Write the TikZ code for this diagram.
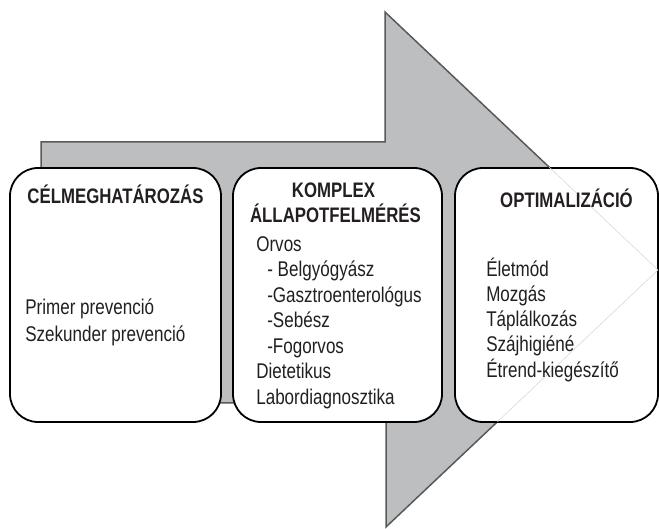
\documentclass[tikz,border=0pt]{standalone}
\usepackage{fontspec}
\usepackage{tikz}
\usetikzlibrary{positioning,calc}
\newfontfamily\narrowfont[FakeStretch=0.8]{Liberation Sans}
\definecolor{arrowfill}{HTML}{BCBEC0}
\definecolor{arrowline}{HTML}{58595B}
\definecolor{inkdark}{HTML}{231F20}
\definecolor{faintline}{HTML}{DADADA}

\begin{document}
\begin{tikzpicture}[x=1pt,y=-1pt,
  stagebox/.style={draw=black,line width=1.8pt,fill=white,rounded corners=28pt,minimum width=#1,minimum height=254pt,inner sep=0pt},
  titletext/.style={font=\narrowfont\bfseries\fontsize{21}{25}\selectfont,text=inkdark,inner sep=0pt,anchor=base},
  bodytext/.style={font=\narrowfont\fontsize{21.3}{25}\selectfont,text=inkdark,inner sep=0pt,anchor=base west}]
\useasboundingbox (0,0) rectangle (659,529);
\coordinate (shaftNW) at (41,142);
\coordinate (headtop) at (385,12);
\coordinate (tip) at (658,270);
\coordinate (headbot) at (386,527);
\coordinate (shaftSW) at (41,403);
\draw[arrowline,fill=arrowfill,line width=1.5pt,line join=miter]
  (shaftNW) -- (shaftNW -| headtop) -- (headtop) -- (tip) -- (headbot) -- (headbot |- shaftSW) -- (shaftSW) -- cycle;
\node[stagebox=211pt] (celm) at (115.5,295) {};
\node[stagebox=209pt] (komp) at (337.5,295) {};
\node[stagebox=203pt] (opti) at (556.5,295) {};
\draw[faintline,line width=0.6pt] ($(headtop)!0.6!(tip)$) -- (tip) -- ($(headbot)!0.41!(tip)$);
\node[titletext] (celmT) at ($(celm.north)+(0,36)$) {CÉLMEGHATÁROZÁS};
\node[titletext] (kompT1) at ($(komp.north)+(-4,30)$) {KOMPLEX};
\node[titletext] (kompT2) at ($(komp.north)+(-2,55)$) {ÁLLAPOTFELMÉRÉS};
\node[titletext] (optiT) at ($(opti.north)+(10,40)$) {OPTIMALIZÁCIÓ};
\foreach \txt [count=\i] in {Primer prevenció,Szekunder prevenció}
  \node[bodytext] (celm-\i) at ($(celm.north west)+(16,{147+27*(\i-1)})$) {\txt};
\foreach \txt [count=\i] in {Orvos,\hspace*{11pt}- Belgyógyász,\hspace*{11pt}-Gasztroenterológus,\hspace*{11pt}-Sebész,\hspace*{11pt}-Fogorvos,Dietetikus,Labordiagnosztika}
  \node[bodytext] (komp-\i) at ($(komp.north west)+(24,{84+25.5*(\i-1)})$) {\txt};
\foreach \txt [count=\i] in {Életmód,Mozgás,Táplálkozás,Szájhigiéné,Étrend-kiegészítő}
  \node[bodytext] (opti-\i) at ($(opti.north west)+(32,{109+25.3*(\i-1)})$) {\txt};
\end{tikzpicture}
\end{document}
